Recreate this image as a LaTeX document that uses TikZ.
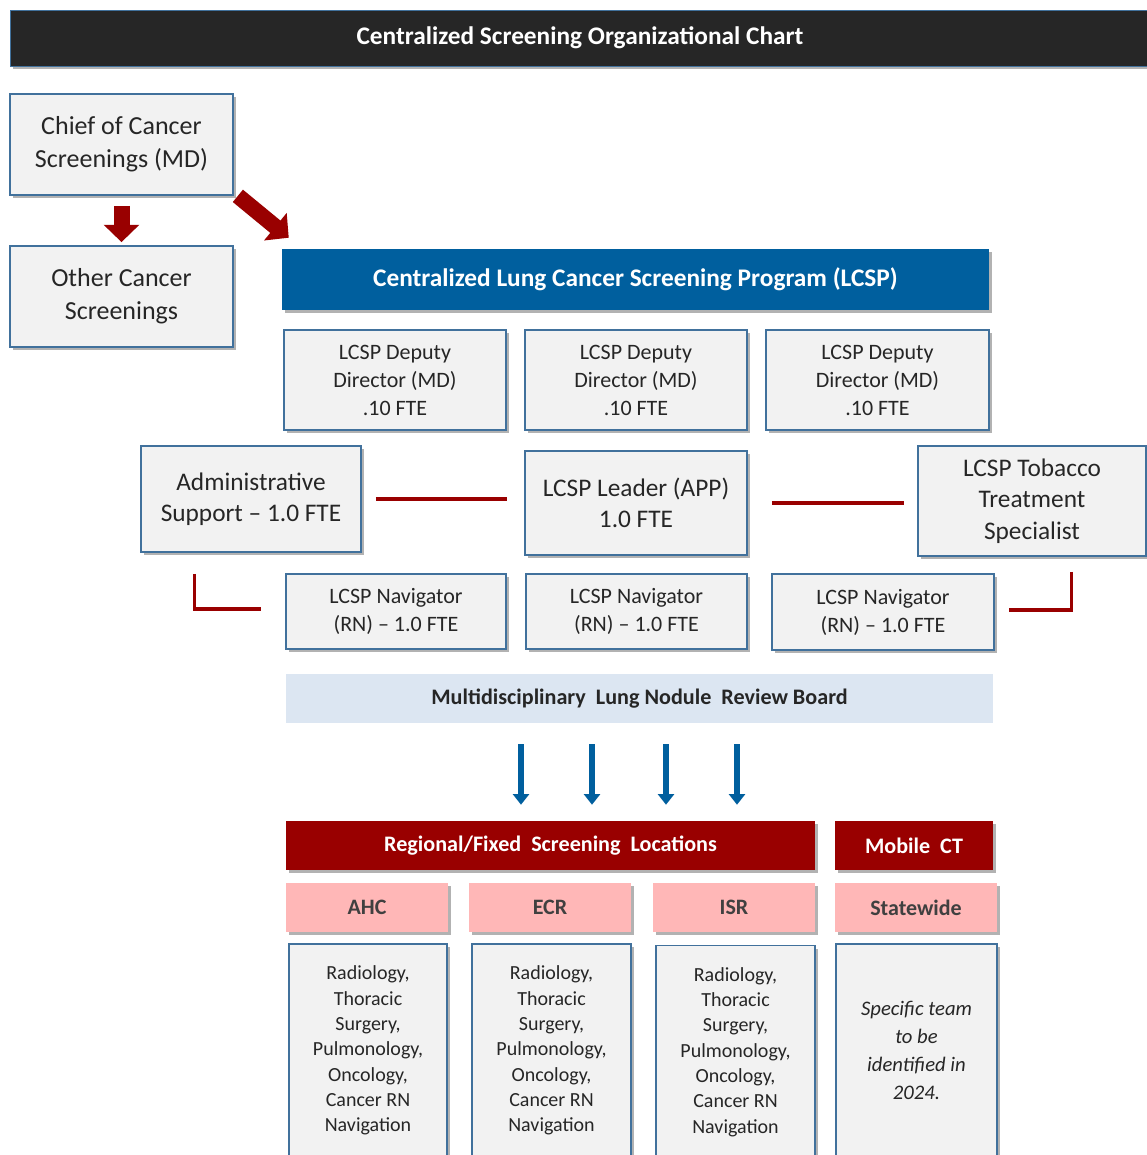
\documentclass[tikz,border=0pt]{standalone}
\usepackage{fontspec}
\setmainfont{Carlito}
\usetikzlibrary{arrows.meta,calc,shadows}

\definecolor{frame}{HTML}{41719C}
\definecolor{boxgray}{HTML}{F2F2F2}
\definecolor{darkbar}{HTML}{262626}
\definecolor{lcspblue}{HTML}{005F9E}
\definecolor{deepred}{HTML}{990000}
\definecolor{boardblue}{HTML}{DCE6F2}
\definecolor{sitepink}{HTML}{FFB7B7}

\tikzset{
  px/.style 2 args={minimum width=#1*0.75pt, minimum height=#2*0.75pt},
  shadowed/.style={drop shadow={shadow xshift=2.5pt, shadow yshift=-2.5pt, opacity=0.3, fill=black}},
  card/.style={draw=frame, line width=1.3pt, fill=boxgray, shadowed, align=center, inner sep=0pt, text=black!85},
  banner/.style={fill=#1, shadowed, inner sep=0pt, align=center, text=white},
  site/.style={fill=sitepink, shadowed, inner sep=0pt, text=black!75, font=\fontsize{16.5}{19}\selectfont\bfseries},
  bigtext/.style={font=\fontsize{19.5}{24.5}\selectfont},
  midtext/.style={font=\fontsize{16.5}{21}\selectfont},
  smalltext/.style={font=\fontsize{15}{19}\selectfont},
  bartext/.style={font=\fontsize{16.6}{19}\selectfont\bfseries},
  link/.style={draw=deepred, line width=2.4pt},
  bigarrow/.style={deepred, line width=12pt, -{Triangle[width=26pt,length=13pt]}},
  flow/.style={lcspblue, line width=5pt, -{Triangle[width=12pt,length=8pt]}}
}

\begin{document}
\begin{tikzpicture}[x=0.75pt,y=-0.75pt]
  \useasboundingbox[fill=white] (0,0) rectangle (1146,1155);

  \node[banner=darkbar, draw=frame, px={1140}{56}, font=\fontsize{19}{22}\selectfont\bfseries] (title) at (580,38) {Centralized Screening Organizational Chart};

  \node[card, bigtext, px={223}{101}] (chief) at (121.5,144.5) {Chief of Cancer\\Screenings (MD)};
  \node[card, bigtext, px={223}{101}] (other) at (121.5,296.5) {Other Cancer\\Screenings};

  \node[banner=lcspblue, px={707}{61}, font=\fontsize{19}{22}\selectfont\bfseries] (lcsp) at (635.5,279.5) {Centralized Lung Cancer Screening Program (LCSP)};

  \node[card, midtext, px={222}{100}] (dep1) at (395,380)   {LCSP Deputy\\Director (MD)\\.10 FTE};
  \node[card, midtext, px={222}{100}] (dep2) at (636,380)   {LCSP Deputy\\Director (MD)\\.10 FTE};
  \node[card, midtext, px={223}{100}] (dep3) at (877.5,380) {LCSP Deputy\\Director (MD)\\.10 FTE};

  \node[card, font=\fontsize{19}{23.5}\selectfont, px={220}{106}] (admin)   at (251,499)  {Administrative\\Support -- 1.0 FTE};
  \node[card, font=\fontsize{19}{23.5}\selectfont, px={222}{104}] (leader)  at (636,503)  {LCSP Leader (APP)\\1.0 FTE};
  \node[card, font=\fontsize{19}{23.5}\selectfont, px={228}{110}] (tobacco) at (1032,501) {LCSP Tobacco\\Treatment\\Specialist};

  \node[card, midtext, px={220}{75}] (nav1) at (396,611.5)   {LCSP Navigator\\(RN) -- 1.0 FTE};
  \node[card, midtext, px={221}{75}] (nav2) at (636.5,611.5) {LCSP Navigator\\(RN) -- 1.0 FTE};
  \node[card, midtext, px={222}{76}] (nav3) at (883,612)     {LCSP Navigator\\(RN) -- 1.0 FTE};

  \node[fill=boardblue, inner sep=0pt, px={707}{49}, text=black!85, bartext] (board) at (639.5,698.5) {Multidisciplinary\ \ Lung Nodule\ \ Review Board};

  \node[banner=deepred, px={529}{49}, bartext] (regional) at (550.5,845.5) {Regional/Fixed\ \ Screening\ \ Locations};
  \node[banner=deepred, px={158}{49}, bartext] (mobile) at (914,845.5) {Mobile\ \ CT};

  \node[site, px={162}{49}] (ahc)   at (367,907.5) {AHC};
  \node[site, px={162}{49}] (ecr)   at (550,907.5) {ECR};
  \node[site, px={162}{49}] (isr)   at (734,907.5) {ISR};
  \node[site, px={162}{49}] (state) at (916,907.5) {Statewide};

  \node[card, smalltext, px={158}{213}] (team1) at (368,1050.5)   {Radiology,\\Thoracic\\Surgery,\\Pulmonology,\\Oncology,\\Cancer RN\\Navigation};
  \node[card, smalltext, px={159}{213}] (team2) at (551.5,1050.5) {Radiology,\\Thoracic\\Surgery,\\Pulmonology,\\Oncology,\\Cancer RN\\Navigation};
  \node[card, smalltext, px={159}{213}] (team3) at (735.5,1052)   {Radiology,\\Thoracic\\Surgery,\\Pulmonology,\\Oncology,\\Cancer RN\\Navigation};
  \node[card, font=\fontsize{15.5}{21}\selectfont\itshape, px={161}{213}] (team4) at (916.5,1050.5) {Specific team\\to be\\identified in\\2024.};

  \draw[bigarrow, shorten <=7.5pt, shorten >=2.25pt] (chief.south) -- (other.north);
  \draw[bigarrow] ($(chief.south east)+(4,0)$) -- ($(lcsp.north west)+(7,-11)$);

  \draw[link, shorten <=10.5pt, shorten >=12.75pt] (admin.east) -- (admin.east -| leader.west);
  \draw[link, shorten <=18pt, shorten >=9.75pt] (leader.east) -- (leader.east -| tobacco.west);
  \draw[link] ($(admin.south west)+(54,21)$) |- ($(nav1.west)+(-24,-2.5)$);
  \draw[link] ($(tobacco.south west)+(154,15)$) |- ($(nav3.east)+(14,-2)$);

  \foreach \x in {521,592,666,737}
    \draw[flow, shorten <=15.75pt, shorten >=12pt] (board.south -| \x,0) -- (regional.north -| \x,0);
\end{tikzpicture}
\end{document}
